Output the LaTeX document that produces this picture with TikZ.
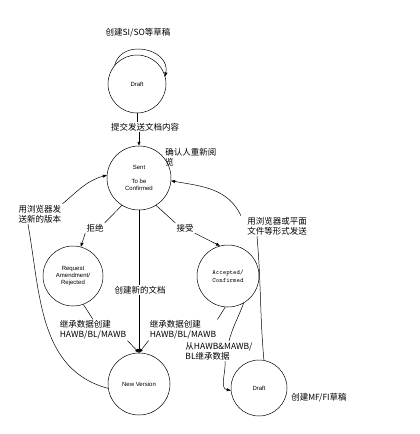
\documentclass[tikz,border=0pt]{standalone}
\usepackage{fontspec}
\setmainfont{Liberation Sans}
\newfontfamily\cjk{Noto Sans CJK SC}
\usetikzlibrary{arrows.meta}
\begin{document}
\begin{tikzpicture}[x=1pt,y=-1pt,
  st/.style={circle,draw,inner sep=0pt,font=\fontsize{6}{7}\selectfont,align=center},
  lbl/.style={font=\cjk\fontsize{8.5}{10}\selectfont,inner sep=1pt,align=left},
  arr/.style={-{Triangle[length=4pt,width=3pt]}},
  every path/.style={line width=0.5pt}]
\useasboundingbox[fill=white] (0,0) rectangle (420,434);
% states
\node[st,minimum size=58pt] (d1) at (137,84) {Draft};
\node[st,minimum size=64pt] (sent) at (139,178) {Sent\\[7pt]To be\\Confirmed};
\node[st,minimum size=60pt] (rej) at (73,276) {Request\\Amendment/\\Rejected};
\node[st,minimum size=62pt,font=\ttfamily\fontsize{6.5}{8}\selectfont] (acc) at (228,276) {Accepted/\\Confirmed};
\node[st,minimum size=62pt] (nv) at (139,384) {New Version};
\node[st,minimum size=56pt] (d2) at (259,388) {Draft};
% labels
\node[lbl] (l1) at (138,33) {创建SI/SO等草稿};
\node[lbl] (l2) at (145,127) {提交发送文档内容};
\node[lbl,anchor=north west] (l3) at (164,147) {确认人重新阅\\览};
\node[lbl] (l4) at (95,228) {拒绝};
\node[lbl] (l5) at (185,228) {接受};
\node[lbl] (l6) at (40,214) {用浏览器发\\送新的版本};
\node[lbl] (l7) at (277,226) {用浏览器或平面\\文件等形式发送};
\node[lbl] (l8) at (140,290) {创建新的文档};
\node[lbl] (l9) at (93,330) {继承数据创建\\HAWB/BL/MAWB};
\node[lbl] (l10) at (183,330) {继承数据创建\\HAWB/BL/MAWB};
\node[lbl] (l11) at (219,351) {从HAWB\&MAWB/\\BL继承数据};
\node[lbl,anchor=west] (l12) at (290,398) {创建MF/FI草稿};
% connectors
\draw[arr] (d1.140) to[out=75,in=80,looseness=1.4] (d1.15);
\draw (d1.south) -- (l2.north -| d1.south);
\draw[arr] (l2.south -| sent.north) -- (sent.north);
\draw (sent.238) -- (l4.north east);
\draw[arr] (l4.south west) -- (rej.75);
\draw (sent.302) -- (l5.north west);
\draw[arr] (l5.south east) -- (acc.105);
\draw (sent.south) -- (l8.north -| sent.south);
\draw[arr] (l8.south -| nv.north) -- (nv.north);
\draw (rej.290) -- (l9.north);
\draw[arr] (l9.south east) -- (nv.north);
\draw (acc.265) -- (l10.north east);
\draw[arr] (l10.south west) -- (nv.north);
\draw (acc.300) to[out=250,in=75] ([xshift=10pt]l11.north);
\draw[arr] ([xshift=6pt]l11.south) to[out=-85,in=170] (d2.185);
\draw (d2.80) to[out=95,in=-85] ([xshift=-20pt]l7.south);
\draw[arr] ([xshift=-36pt]l7.north) to[out=115,in=-10] (sent.-5);
\draw (nv.188) to[out=165,in=-80] ([xshift=-12pt]l6.south);
\draw[arr] (l6.north east) to[out=40,in=195] (sent.175);
\end{tikzpicture}
\end{document}
